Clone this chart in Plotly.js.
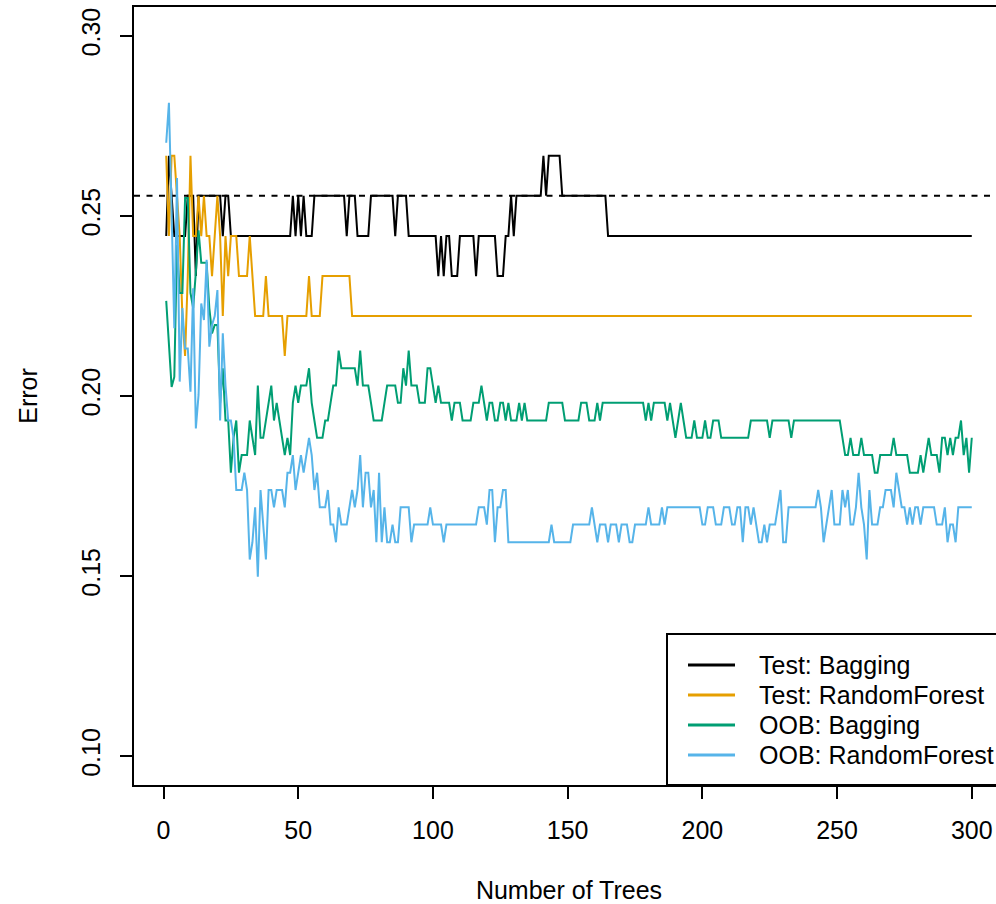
<!DOCTYPE html>
<html>
<head>
<meta charset="utf-8">
<script src="https://cdn.plot.ly/plotly-3.0.1.min.js"></script>
<style>
html,body{margin:0;padding:0;background:#fff;overflow:hidden;}
#chart{width:1010px;height:904px;}
</style>
</head>
<body>
<div id="chart"></div>
<script>
// Test error, bagging (trees 1..300)
const testBagging = [
0.2444,0.2667,0.2556,0.2444,0.2444,0.2444,0.2444,0.2444,0.2556,0.2556,
0.2556,0.2333,0.2556,0.2556,0.2556,0.2556,0.2556,0.2556,0.2556,0.2556,
0.2556,0.2444,0.2556,0.2556,0.2444,0.2444,0.2444,0.2444,0.2444,0.2444,
0.2444,0.2444,0.2444,0.2444,0.2444,0.2444,0.2444,0.2444,0.2444,0.2444,
0.2444,0.2444,0.2444,0.2444,0.2444,0.2444,0.2444,0.2556,0.2444,0.2556,
0.2444,0.2556,0.2444,0.2444,0.2444,0.2556,0.2556,0.2556,0.2556,0.2556,
0.2556,0.2556,0.2556,0.2556,0.2556,0.2556,0.2556,0.2444,0.2556,0.2556,
0.2556,0.2444,0.2444,0.2444,0.2444,0.2444,0.2556,0.2556,0.2556,0.2556,
0.2556,0.2556,0.2556,0.2556,0.2556,0.2444,0.2556,0.2556,0.2556,0.2556,
0.2444,0.2444,0.2444,0.2444,0.2444,0.2444,0.2444,0.2444,0.2444,0.2444,
0.2444,0.2333,0.2444,0.2333,0.2444,0.2444,0.2333,0.2333,0.2333,0.2444,
0.2444,0.2444,0.2444,0.2444,0.2444,0.2333,0.2444,0.2444,0.2444,0.2444,
0.2444,0.2444,0.2444,0.2333,0.2333,0.2333,0.2444,0.2444,0.2556,0.2444,
0.2556,0.2556,0.2556,0.2556,0.2556,0.2556,0.2556,0.2556,0.2556,0.2556,
0.2667,0.2556,0.2667,0.2667,0.2667,0.2667,0.2667,0.2556,0.2556,0.2556,
0.2556,0.2556,0.2556,0.2556,0.2556,0.2556,0.2556,0.2556,0.2556,0.2556,
0.2556,0.2556,0.2556,0.2556,0.2444,0.2444,0.2444,0.2444,0.2444,0.2444,
0.2444,0.2444,0.2444,0.2444,0.2444,0.2444,0.2444,0.2444,0.2444,0.2444,
0.2444,0.2444,0.2444,0.2444,0.2444,0.2444,0.2444,0.2444,0.2444,0.2444,
0.2444,0.2444,0.2444,0.2444,0.2444,0.2444,0.2444,0.2444,0.2444,0.2444,
0.2444,0.2444,0.2444,0.2444,0.2444,0.2444,0.2444,0.2444,0.2444,0.2444,
0.2444,0.2444,0.2444,0.2444,0.2444,0.2444,0.2444,0.2444,0.2444,0.2444,
0.2444,0.2444,0.2444,0.2444,0.2444,0.2444,0.2444,0.2444,0.2444,0.2444,
0.2444,0.2444,0.2444,0.2444,0.2444,0.2444,0.2444,0.2444,0.2444,0.2444,
0.2444,0.2444,0.2444,0.2444,0.2444,0.2444,0.2444,0.2444,0.2444,0.2444,
0.2444,0.2444,0.2444,0.2444,0.2444,0.2444,0.2444,0.2444,0.2444,0.2444,
0.2444,0.2444,0.2444,0.2444,0.2444,0.2444,0.2444,0.2444,0.2444,0.2444,
0.2444,0.2444,0.2444,0.2444,0.2444,0.2444,0.2444,0.2444,0.2444,0.2444,
0.2444,0.2444,0.2444,0.2444,0.2444,0.2444,0.2444,0.2444,0.2444,0.2444,
0.2444,0.2444,0.2444,0.2444,0.2444,0.2444,0.2444,0.2444,0.2444,0.2444
];

// Test error, random forest
const testRandomForest = [
0.2667,0.2444,0.2667,0.2667,0.2556,0.2444,0.2222,0.2111,0.2333,0.2667,
0.2444,0.2444,0.2556,0.2444,0.2556,0.2444,0.2444,0.2333,0.2444,0.2556,
0.2444,0.2222,0.2444,0.2333,0.2444,0.2444,0.2444,0.2333,0.2333,0.2333,
0.2333,0.2444,0.2333,0.2222,0.2222,0.2222,0.2222,0.2333,0.2222,0.2222,
0.2222,0.2222,0.2222,0.2222,0.2111,0.2222,0.2222,0.2222,0.2222,0.2222,
0.2222,0.2222,0.2222,0.2333,0.2222,0.2222,0.2222,0.2222,0.2333,0.2333,
0.2333,0.2333,0.2333,0.2333,0.2333,0.2333,0.2333,0.2333,0.2333,0.2222,
0.2222,0.2222,0.2222,0.2222,0.2222,0.2222,0.2222,0.2222,0.2222,0.2222,
0.2222,0.2222,0.2222,0.2222,0.2222,0.2222,0.2222,0.2222,0.2222,0.2222,
0.2222,0.2222,0.2222,0.2222,0.2222,0.2222,0.2222,0.2222,0.2222,0.2222,
0.2222,0.2222,0.2222,0.2222,0.2222,0.2222,0.2222,0.2222,0.2222,0.2222,
0.2222,0.2222,0.2222,0.2222,0.2222,0.2222,0.2222,0.2222,0.2222,0.2222,
0.2222,0.2222,0.2222,0.2222,0.2222,0.2222,0.2222,0.2222,0.2222,0.2222,
0.2222,0.2222,0.2222,0.2222,0.2222,0.2222,0.2222,0.2222,0.2222,0.2222,
0.2222,0.2222,0.2222,0.2222,0.2222,0.2222,0.2222,0.2222,0.2222,0.2222,
0.2222,0.2222,0.2222,0.2222,0.2222,0.2222,0.2222,0.2222,0.2222,0.2222,
0.2222,0.2222,0.2222,0.2222,0.2222,0.2222,0.2222,0.2222,0.2222,0.2222,
0.2222,0.2222,0.2222,0.2222,0.2222,0.2222,0.2222,0.2222,0.2222,0.2222,
0.2222,0.2222,0.2222,0.2222,0.2222,0.2222,0.2222,0.2222,0.2222,0.2222,
0.2222,0.2222,0.2222,0.2222,0.2222,0.2222,0.2222,0.2222,0.2222,0.2222,
0.2222,0.2222,0.2222,0.2222,0.2222,0.2222,0.2222,0.2222,0.2222,0.2222,
0.2222,0.2222,0.2222,0.2222,0.2222,0.2222,0.2222,0.2222,0.2222,0.2222,
0.2222,0.2222,0.2222,0.2222,0.2222,0.2222,0.2222,0.2222,0.2222,0.2222,
0.2222,0.2222,0.2222,0.2222,0.2222,0.2222,0.2222,0.2222,0.2222,0.2222,
0.2222,0.2222,0.2222,0.2222,0.2222,0.2222,0.2222,0.2222,0.2222,0.2222,
0.2222,0.2222,0.2222,0.2222,0.2222,0.2222,0.2222,0.2222,0.2222,0.2222,
0.2222,0.2222,0.2222,0.2222,0.2222,0.2222,0.2222,0.2222,0.2222,0.2222,
0.2222,0.2222,0.2222,0.2222,0.2222,0.2222,0.2222,0.2222,0.2222,0.2222,
0.2222,0.2222,0.2222,0.2222,0.2222,0.2222,0.2222,0.2222,0.2222,0.2222,
0.2222,0.2222,0.2222,0.2222,0.2222,0.2222,0.2222,0.2222,0.2222,0.2222
];

// OOB error, bagging
const oobBagging = [
0.2264,0.2133,0.2025,0.2053,0.2420,0.2286,0.2286,0.2550,0.2550,0.2286,
0.2244,0.2344,0.2460,0.2370,0.2370,0.2370,0.2244,0.2174,0.2197,0.2197,
0.1981,0.2077,0.1932,0.1932,0.1787,0.1884,0.1932,0.1787,0.1836,0.1836,
0.1836,0.1932,0.1884,0.1836,0.2029,0.1884,0.1884,0.1932,0.1981,0.2029,
0.1932,0.1981,0.1932,0.1884,0.1836,0.1884,0.1836,0.1981,0.2029,0.1981,
0.2029,0.2029,0.2029,0.2077,0.1981,0.1932,0.1884,0.1884,0.1884,0.1932,
0.1932,0.1981,0.2029,0.2029,0.2126,0.2077,0.2077,0.2077,0.2077,0.2077,
0.2077,0.2029,0.2126,0.2029,0.2029,0.2029,0.1981,0.1932,0.1932,0.1932,
0.1932,0.1981,0.2029,0.2029,0.2029,0.2029,0.1981,0.1981,0.2077,0.2029,
0.2126,0.2029,0.2029,0.2029,0.1981,0.1981,0.1981,0.2077,0.2077,0.2029,
0.1981,0.2029,0.1981,0.1981,0.1981,0.1981,0.1932,0.1981,0.1981,0.1981,
0.1932,0.1932,0.1932,0.1932,0.1981,0.1981,0.1981,0.2029,0.1981,0.1932,
0.1981,0.1981,0.1932,0.1932,0.1981,0.1981,0.1932,0.1981,0.1932,0.1932,
0.1932,0.1981,0.1932,0.1981,0.1932,0.1932,0.1932,0.1932,0.1932,0.1932,
0.1932,0.1932,0.1981,0.1981,0.1981,0.1981,0.1981,0.1981,0.1932,0.1932,
0.1932,0.1932,0.1932,0.1932,0.1981,0.1981,0.1981,0.1932,0.1932,0.1932,
0.1981,0.1932,0.1981,0.1981,0.1981,0.1981,0.1981,0.1981,0.1981,0.1981,
0.1981,0.1981,0.1981,0.1981,0.1981,0.1981,0.1981,0.1981,0.1932,0.1981,
0.1932,0.1981,0.1981,0.1981,0.1981,0.1981,0.1932,0.1981,0.1932,0.1884,
0.1932,0.1981,0.1932,0.1884,0.1884,0.1884,0.1932,0.1884,0.1884,0.1884,
0.1932,0.1884,0.1884,0.1932,0.1932,0.1932,0.1884,0.1884,0.1884,0.1884,
0.1884,0.1884,0.1884,0.1884,0.1884,0.1884,0.1884,0.1932,0.1932,0.1932,
0.1932,0.1932,0.1932,0.1932,0.1884,0.1932,0.1932,0.1932,0.1932,0.1932,
0.1932,0.1932,0.1884,0.1932,0.1932,0.1932,0.1932,0.1932,0.1932,0.1932,
0.1932,0.1932,0.1932,0.1932,0.1932,0.1932,0.1932,0.1932,0.1932,0.1932,
0.1932,0.1884,0.1836,0.1836,0.1884,0.1836,0.1836,0.1836,0.1884,0.1836,
0.1836,0.1836,0.1836,0.1787,0.1787,0.1836,0.1836,0.1836,0.1836,0.1836,
0.1884,0.1836,0.1836,0.1836,0.1836,0.1836,0.1787,0.1787,0.1787,0.1787,
0.1836,0.1787,0.1836,0.1884,0.1836,0.1836,0.1836,0.1787,0.1884,0.1884,
0.1836,0.1884,0.1836,0.1884,0.1884,0.1932,0.1836,0.1884,0.1787,0.1884
];

// OOB error, random forest
const oobRandomForest = [
0.2703,0.2814,0.2512,0.2188,0.2605,0.2040,0.2244,0.2132,0.2132,0.2012,
0.2299,0.1910,0.2003,0.2257,0.2211,0.2378,0.2137,0.2197,0.2222,0.2294,
0.1932,0.2174,0.2029,0.1932,0.1932,0.1884,0.1739,0.1739,0.1739,0.1787,
0.1739,0.1546,0.1594,0.1691,0.1498,0.1739,0.1643,0.1546,0.1739,0.1739,
0.1691,0.1739,0.1739,0.1739,0.1691,0.1787,0.1787,0.1836,0.1739,0.1787,
0.1836,0.1787,0.1836,0.1884,0.1836,0.1739,0.1787,0.1691,0.1691,0.1691,
0.1739,0.1643,0.1643,0.1594,0.1691,0.1643,0.1643,0.1643,0.1691,0.1739,
0.1691,0.1739,0.1836,0.1691,0.1787,0.1787,0.1691,0.1739,0.1594,0.1787,
0.1594,0.1691,0.1594,0.1594,0.1643,0.1594,0.1594,0.1691,0.1691,0.1691,
0.1691,0.1594,0.1643,0.1643,0.1643,0.1643,0.1643,0.1643,0.1691,0.1643,
0.1643,0.1643,0.1643,0.1594,0.1643,0.1643,0.1643,0.1643,0.1643,0.1643,
0.1643,0.1643,0.1643,0.1643,0.1643,0.1643,0.1691,0.1691,0.1691,0.1643,
0.1739,0.1739,0.1594,0.1691,0.1691,0.1739,0.1739,0.1594,0.1594,0.1594,
0.1594,0.1594,0.1594,0.1594,0.1594,0.1594,0.1594,0.1594,0.1594,0.1594,
0.1594,0.1594,0.1594,0.1643,0.1594,0.1594,0.1594,0.1594,0.1594,0.1594,
0.1594,0.1643,0.1643,0.1643,0.1643,0.1643,0.1643,0.1643,0.1691,0.1643,
0.1594,0.1643,0.1643,0.1643,0.1594,0.1643,0.1643,0.1643,0.1594,0.1643,
0.1643,0.1643,0.1594,0.1594,0.1643,0.1643,0.1643,0.1643,0.1643,0.1691,
0.1643,0.1643,0.1643,0.1643,0.1691,0.1643,0.1691,0.1691,0.1691,0.1691,
0.1691,0.1691,0.1691,0.1691,0.1691,0.1691,0.1691,0.1691,0.1691,0.1643,
0.1643,0.1691,0.1691,0.1691,0.1643,0.1643,0.1643,0.1691,0.1691,0.1691,
0.1643,0.1643,0.1691,0.1691,0.1594,0.1691,0.1691,0.1643,0.1691,0.1643,
0.1594,0.1594,0.1643,0.1594,0.1643,0.1643,0.1643,0.1691,0.1739,0.1594,
0.1594,0.1691,0.1691,0.1691,0.1691,0.1691,0.1691,0.1691,0.1691,0.1691,
0.1691,0.1691,0.1739,0.1691,0.1594,0.1643,0.1691,0.1739,0.1643,0.1643,
0.1643,0.1739,0.1691,0.1739,0.1643,0.1643,0.1691,0.1787,0.1691,0.1643,
0.1546,0.1739,0.1643,0.1643,0.1643,0.1691,0.1691,0.1739,0.1739,0.1739,
0.1691,0.1787,0.1739,0.1691,0.1691,0.1643,0.1691,0.1643,0.1691,0.1691,
0.1643,0.1691,0.1691,0.1691,0.1691,0.1691,0.1643,0.1643,0.1643,0.1691,
0.1594,0.1643,0.1643,0.1594,0.1691,0.1691,0.1691,0.1691,0.1691,0.1691
];

const seriesNames = ["Test: Bagging", "Test: RandomForest", "OOB: Bagging", "OOB: RandomForest"];
const seriesColors = ["#000000", "#E69F00", "#009E73", "#56B4E9"];
const singleTreeError = 0.2556;
const xTicks = [0, 50, 100, 150, 200, 250, 300];
const yTicks = [0.10, 0.15, 0.20, 0.25, 0.30];

const FONT = "Liberation Sans, Arial, Helvetica, sans-serif";
const FS = 25;
const allSeries = [testBagging, testRandomForest, oobBagging, oobRandomForest];

const traces = allSeries.map((ys, i) => ({
  type: "scatter",
  mode: "lines",
  x0: 1,
  dx: 1,
  y: ys,
  name: seriesNames[i],
  line: { color: seriesColors[i], width: 2 }
}));

// Legend drawn as a box with sample lines and labels (paper coordinates)
const W = 1010, ML = 134, MR = 6, MT = 7, MB = 119;
const plotW = W - ML - MR, plotH = 904 - MT - MB;
const px2x = p => (p - ML) / plotW;
const px2y = p => (904 - MB - p) / plotH;
const legendRowsPx = [665, 695, 725, 755];

const shapes = [{
  type: "line", xref: "paper", x0: 0, x1: 1,
  yref: "y", y0: singleTreeError, y1: singleTreeError,
  line: { color: "#000", width: 2, dash: "6px,6.5px" },
  layer: "below"
}, {
  type: "rect", xref: "paper", yref: "paper",
  x0: px2x(667), x1: px2x(1008), y0: 0, y1: px2y(634),
  line: { color: "#000", width: 2 }, fillcolor: "#ffffff", layer: "above"
}];
const annotations = [];
seriesNames.forEach((nm, i) => {
  const yy = px2y(legendRowsPx[i]);
  shapes.push({
    type: "line", xref: "paper", yref: "paper",
    x0: px2x(688), x1: px2x(735), y0: yy, y1: yy,
    line: { color: seriesColors[i], width: 3 }, layer: "above"
  });
  annotations.push({
    xref: "paper", yref: "paper", x: px2x(757), y: yy,
    xanchor: "left", yanchor: "middle", showarrow: false,
    text: nm, font: { family: FONT, size: FS, color: "#000" }
  });
});

const layout = {
  width: W,
  height: 904,
  margin: { l: ML, r: MR, t: MT, b: MB },
  paper_bgcolor: "#ffffff",
  plot_bgcolor: "#ffffff",
  font: { family: FONT, size: FS, color: "#000" },
  showlegend: false,
  xaxis: {
    range: [-10.96, 311.96],
    tickvals: xTicks,
    ticktext: xTicks.map(String),
    ticks: "outside", ticklen: 12, tickwidth: 2, tickcolor: "#000",
    showline: true, linecolor: "#000", linewidth: 2, mirror: true,
    showgrid: false, zeroline: false,
    tickfont: { family: FONT, size: FS },
    ticklabelstandoff: 10,
    title: { text: "Number of Trees", font: { family: FONT, size: FS }, standoff: 40 },
    automargin: false
  },
  yaxis: {
    range: [0.092, 0.308],
    tickvals: yTicks,
    ticktext: yTicks.map(v => v.toFixed(2)),
    tickangle: -90,
    ticks: "outside", ticklen: 12, tickwidth: 2, tickcolor: "#000",
    showline: true, linecolor: "#000", linewidth: 2, mirror: true,
    showgrid: false, zeroline: false,
    tickfont: { family: FONT, size: FS },
    ticklabelstandoff: 10,
    title: { text: "Error", font: { family: FONT, size: FS }, standoff: 32 },
    automargin: false
  },
  shapes: shapes,
  annotations: annotations
};

Plotly.newPlot("chart", traces, layout, { displayModeBar: false, staticPlot: true });
</script>
</body>
</html>
